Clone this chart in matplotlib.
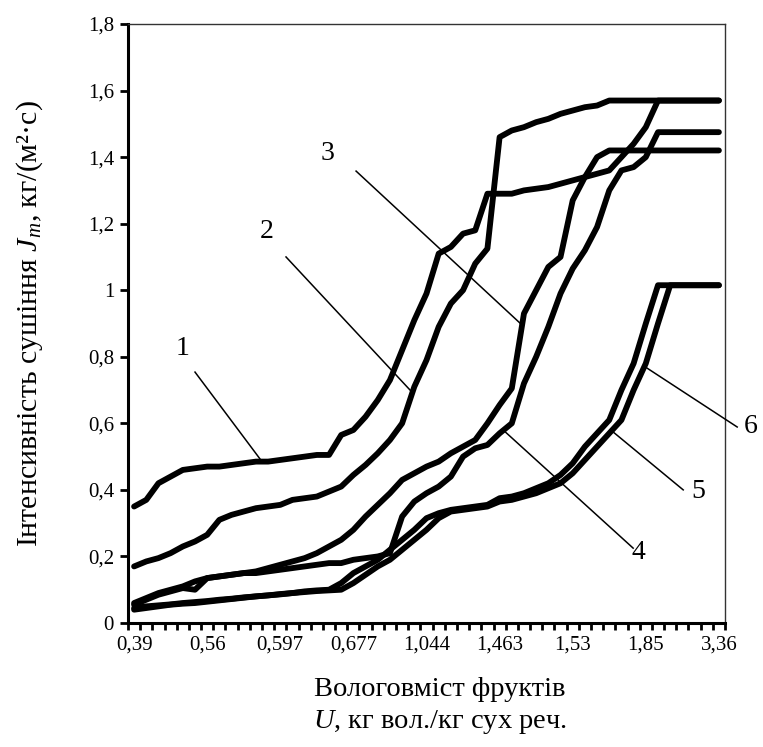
import matplotlib
matplotlib.use("Agg")
import matplotlib.pyplot as plt
import numpy as np

plt.rcParams['font.family'] = ['Liberation Serif', 'DejaVu Serif']
plt.rcParams['mathtext.fontset'] = 'custom'
plt.rcParams['mathtext.rm'] = 'Liberation Serif'
plt.rcParams['mathtext.it'] = 'Liberation Serif:italic'

# category tick labels (every 6th of 49 categories)
x_labels = ['0,39', '0,56', '0,597', '0,677', '1,044', '1,463', '1,53', '1,85', '3,36']
label_step = 6
n_cat = 49

c1 = [0.35, 0.37, 0.42, 0.44, 0.46, 0.465, 0.47, 0.47, 0.475, 0.48, 0.485, 0.485, 0.49, 0.495,
      0.50, 0.505, 0.505, 0.565, 0.58, 0.62, 0.67, 0.73, 0.82, 0.91, 0.99, 1.11, 1.13, 1.17, 1.18,
      1.29, 1.29, 1.29, 1.30, 1.305, 1.31, 1.32, 1.33, 1.34, 1.35, 1.36, 1.40, 1.44, 1.49,
      1.57, 1.57, 1.57, 1.57, 1.57, 1.57]
c2 = [0.17, 0.185, 0.195, 0.21, 0.23, 0.245, 0.265, 0.31, 0.325, 0.335, 0.345, 0.35, 0.355, 0.37,
      0.375, 0.38, 0.395, 0.41, 0.445, 0.475, 0.51, 0.55, 0.60, 0.71, 0.79, 0.89, 0.96, 1.00, 1.08,
      1.125, 1.46, 1.48, 1.49, 1.505, 1.515, 1.53, 1.54, 1.55, 1.555,
      1.57, 1.57, 1.57, 1.57, 1.57, 1.57, 1.57, 1.57, 1.57, 1.57]
c3 = [0.06, 0.075, 0.09, 0.10, 0.11, 0.125, 0.135, 0.14, 0.145, 0.15, 0.155, 0.165, 0.175, 0.185,
      0.195, 0.21, 0.23, 0.25, 0.28, 0.32, 0.355, 0.39, 0.43, 0.45, 0.47, 0.485, 0.51, 0.53, 0.55,
      0.60, 0.655, 0.705, 0.93, 1.00, 1.07, 1.10, 1.27, 1.34, 1.40,
      1.42, 1.42, 1.42, 1.42, 1.42, 1.42, 1.42, 1.42, 1.42, 1.42]
c4 = [0.055, 0.07, 0.085, 0.095, 0.105, 0.10, 0.135, 0.14, 0.145, 0.15, 0.15, 0.155, 0.16, 0.165,
      0.17, 0.175, 0.18, 0.18, 0.19, 0.195, 0.20, 0.21, 0.32, 0.365, 0.39, 0.41, 0.44, 0.50, 0.525,
      0.535, 0.57, 0.60, 0.72, 0.80, 0.89, 0.99, 1.065, 1.12, 1.19, 1.30, 1.36, 1.37, 1.40,
      1.475, 1.475, 1.475, 1.475, 1.475, 1.475]
c5 = [0.045, 0.05, 0.053, 0.056, 0.06, 0.063, 0.066, 0.07, 0.073, 0.077, 0.08, 0.083, 0.087, 0.09,
      0.095, 0.098, 0.10, 0.12, 0.15, 0.17, 0.19, 0.22, 0.25, 0.28, 0.315, 0.33, 0.34, 0.345, 0.35,
      0.355, 0.375, 0.38, 0.39, 0.405, 0.42, 0.445, 0.48, 0.53, 0.57, 0.61, 0.70, 0.78, 0.90,
      1.015, 1.015, 1.015, 1.015, 1.015, 1.015]
c6 = [0.04, 0.045, 0.05, 0.055, 0.058, 0.06, 0.064, 0.068, 0.072, 0.076, 0.08, 0.083, 0.086, 0.09,
      0.093, 0.096, 0.098, 0.10, 0.12, 0.145, 0.17, 0.19, 0.22, 0.25, 0.28, 0.315, 0.335, 0.34, 0.345,
      0.35, 0.365, 0.37, 0.38, 0.39, 0.405, 0.42, 0.45, 0.49, 0.53, 0.57, 0.61, 0.70, 0.78, 0.90,
      1.015, 1.015, 1.015, 1.015, 1.015]
series = [c1, c2, c3, c4, c5, c6]

# curve labels: (text position), (leader start), (leader end) in data coordinates
curve_names = ['1', '2', '3', '4', '5', '6']
label_pos = [(4.0, 0.826), (10.9, 1.175), (15.84, 1.41), (41.37, 0.213), (46.3, 0.394), (50.57, 0.589)]
leader_from = [(5.0, 0.754), (12.47, 1.10), (18.22, 1.358), (40.96, 0.225), (45.07, 0.40), (49.5, 0.589)]
leader_to = [(10.58, 0.481), (22.65, 0.70), (31.68, 0.901), (30.29, 0.58), (39.32, 0.574), (42.1, 0.766)]

W, H = 763, 747
fig = plt.figure(figsize=(W / 100, H / 100), dpi=100)
ax = fig.add_axes([128 / W, 1 - 623 / H, (725 - 128) / W, (623 - 24) / H])

x = np.arange(n_cat)
for s in series:
    ax.plot(x, s, color='black', lw=4.2, solid_capstyle='round', solid_joinstyle='round', zorder=3)

for name, tp, lf, lt in zip(curve_names, label_pos, leader_from, leader_to):
    ax.plot([lf[0], lt[0]], [lf[1], lt[1]], color='black', lw=1.1, clip_on=False, zorder=4)
    ax.text(tp[0], tp[1], name, fontsize=20, ha='center', va='center', clip_on=False)

ax.set_xlim(-0.5, n_cat - 0.5)
ax.set_ylim(0, 1.8)

yt = np.arange(0, 1.81, 0.2)
ax.set_yticks(yt)
ax.set_yticklabels([('%g' % v).replace('.', ',') for v in yt], fontsize=15)

ax.set_xticks(np.arange(-0.5, n_cat, 1.0))
ax.set_xticklabels([])
lab_pos = np.arange(0, n_cat, label_step)
ax.set_xticks(lab_pos, minor=True)
ax.set_xticklabels(x_labels, minor=True, fontsize=15)
ax.tick_params(axis='x', which='minor', length=0, pad=9)
ax.tick_params(axis='x', which='major', length=5, width=2, direction='out')
ax.tick_params(axis='y', which='major', length=6, width=2, direction='out', pad=4)

for sp in ['left', 'bottom']:
    ax.spines[sp].set_linewidth(2.2)
for sp in ['top', 'right']:
    ax.spines[sp].set_linewidth(1.0)
    ax.spines[sp].set_color('#333333')

ax.set_ylabel('Інтенсивність сушіння $J_m$, кг/(м²·с)', fontsize=21.5)
ax.yaxis.set_label_coords(-0.139, 0.5)

fig.text(440 / W, 1 - 690 / H, 'Вологовміст фруктів', fontsize=20.5, ha='center', va='center')
fig.text(440 / W, 1 - 722 / H, '$U$, кг вол./кг сух реч.', fontsize=20.5, ha='center', va='center')

fig.savefig('out.png', dpi=100)
